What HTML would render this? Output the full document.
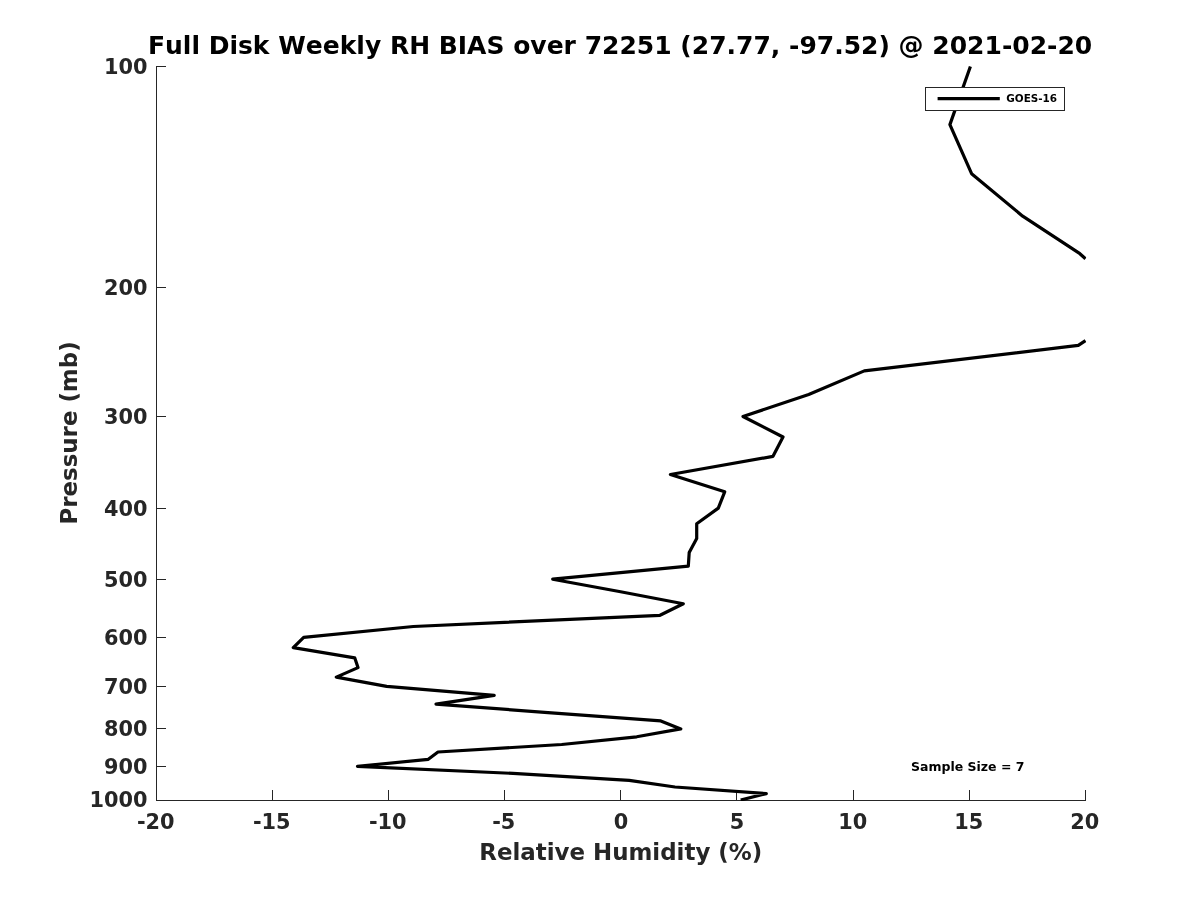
<!DOCTYPE html>
<html lang="en">
<head>
<meta charset="utf-8">
<title>Full Disk Weekly RH BIAS over 72251</title>
<style>
html,body{margin:0;padding:0;background:#fff;}
body{width:1200px;height:900px;overflow:hidden;}
svg{display:block;}
text{font-family:"DejaVu Sans","Liberation Sans",sans-serif;font-weight:bold;font-kerning:none;}
.tk{font-size:20.83px;fill:#262626;}
.lb{font-size:22.92px;fill:#262626;}
.tt{font-size:25px;fill:#000;}
.lg{font-size:10.42px;fill:#000;}
.ss{font-size:12.5px;fill:#000;}
</style>
</head>
<body>
<svg width="1200" height="900" viewBox="0 0 1200 900">
<rect x="0" y="0" width="1200" height="900" fill="#fff"/>
<path d="M156.5,66.0 V801.0 M156.0,800.5 H1086.0" stroke="#262626" stroke-width="1" fill="none" shape-rendering="crispEdges"/>
<path d="M156.5,66.5 h9.3 M156.5,287.5 h9.3 M156.5,416.5 h9.3 M156.5,508.5 h9.3 M156.5,579.5 h9.3 M156.5,637.5 h9.3 M156.5,686.5 h9.3 M156.5,728.5 h9.3 M156.5,766.5 h9.3 M272.5,801.0 V790 M388.5,801.0 V790 M504.5,801.0 V790 M620.5,801.0 V790 M736.5,801.0 V790 M853.5,801.0 V790 M969.5,801.0 V790 M1085.5,801.0 V790" stroke="#262626" stroke-width="1" fill="none" shape-rendering="crispEdges"/>
<text class="tk" x="147.6" y="74.0" text-anchor="end">100</text>
<text class="tk" x="147.6" y="294.8" text-anchor="end">200</text>
<text class="tk" x="147.6" y="424.0" text-anchor="end">300</text>
<text class="tk" x="147.6" y="515.6" text-anchor="end">400</text>
<text class="tk" x="147.6" y="586.7" text-anchor="end">500</text>
<text class="tk" x="147.6" y="644.8" text-anchor="end">600</text>
<text class="tk" x="147.6" y="693.9" text-anchor="end">700</text>
<text class="tk" x="147.6" y="736.4" text-anchor="end">800</text>
<text class="tk" x="147.6" y="773.9" text-anchor="end">900</text>
<text class="tk" x="147.6" y="806.9" text-anchor="end">1000</text>
<text class="tk" x="155.75" y="829.0" text-anchor="middle">-20</text>
<text class="tk" x="271.75" y="829.0" text-anchor="middle">-15</text>
<text class="tk" x="387.75" y="829.0" text-anchor="middle">-10</text>
<text class="tk" x="503.75" y="829.0" text-anchor="middle">-5</text>
<text class="tk" x="621.10" y="829.0" text-anchor="middle">0</text>
<text class="tk" x="737.10" y="829.0" text-anchor="middle">5</text>
<text class="tk" x="852.75" y="829.0" text-anchor="middle">10</text>
<text class="tk" x="968.75" y="829.0" text-anchor="middle">15</text>
<text class="tk" x="1084.75" y="829.0" text-anchor="middle">20</text>
<text class="lb" x="620.75" y="859.6" text-anchor="middle">Relative Humidity (%)</text>
<text class="lb" transform="translate(76.9,433) rotate(-90)" text-anchor="middle">Pressure (mb)</text>
<text class="tt" x="620.1" y="53.8" text-anchor="middle">Full Disk Weekly RH BIAS over 72251 (27.77, -97.52) @ 2021-02-20</text>
<clipPath id="ax"><rect x="156" y="66" width="930.2" height="735"/></clipPath>
<path clip-path="url(#ax)" d="M970.4,66.5 L949.9,124.6 L971.6,173.7 L1022.7,216.2 L1079.9,253.7 L1085.5,258.7 M1085.5,340.6 L1078.3,345.4 L864.3,370.9 L808.7,394.5 L743.0,416.5 L783.0,437.0 L773.0,456.3 L670.4,474.5 L724.7,491.8 L718.3,508.1 L696.7,523.7 L696.7,538.5 L689.2,552.6 L688.3,566.2 L552.7,579.2 L620.6,591.7 L683.3,603.7 L660.0,615.3 L413.3,626.5 L303.7,637.3 L293.3,647.7 L354.7,657.8 L358.0,667.6 L336.3,677.1 L386.7,686.4 L494.2,695.4 L436.0,704.1 L548.0,712.6 L660.8,720.9 L680.8,728.9 L636.7,736.8 L561.7,744.5 L438.0,752.0 L428.3,759.3 L357.5,766.4 L513.0,773.4 L629.2,780.3 L675.0,787.0 L766.3,793.6 L740.7,800.0" stroke="#000" stroke-width="3.2" fill="none" stroke-linejoin="round" stroke-linecap="butt"/>
<rect x="925.5" y="87.5" width="139" height="23" fill="#fff" stroke="#262626" stroke-width="1" shape-rendering="crispEdges"/>
<path d="M937.6,98.7 H999.8" stroke="#000" stroke-width="3.2" fill="none"/>
<text class="lg" x="1006.3" y="102.4">GOES-16</text>
<text class="ss" x="911" y="771.0">Sample Size = 7</text>
</svg>
</body>
</html>
